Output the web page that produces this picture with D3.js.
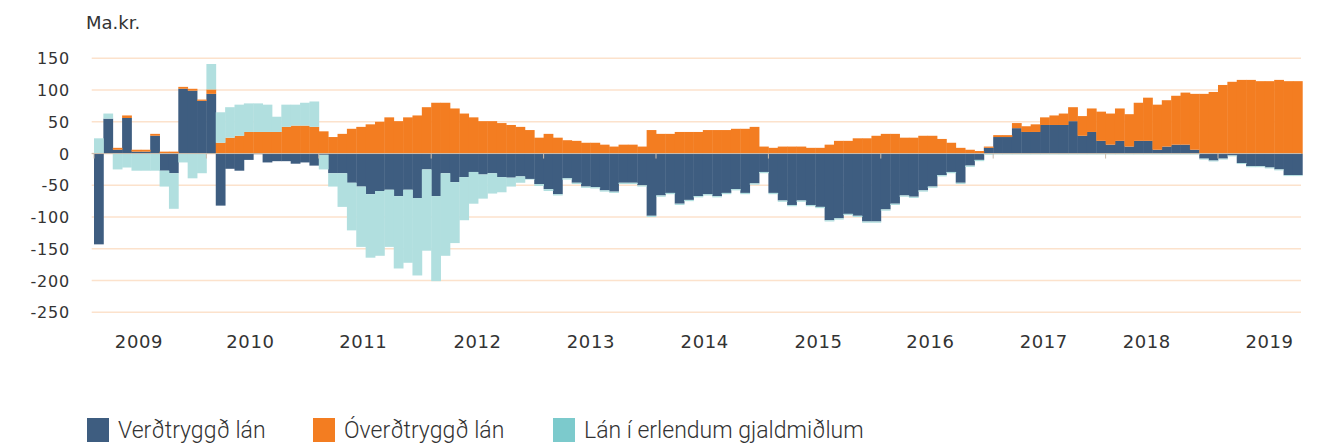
<!DOCTYPE html>
<html>
<head>
<meta charset="utf-8">
<script src="https://cdn.jsdelivr.net/npm/d3@7"></script>
<style>
  body { margin: 0; background: #fff; }
  svg text { fill: #333; }
</style>
</head>
<body>
<svg id="chart" width="1324" height="444"></svg>
<script>
// monthly values, Jan 2009 - Sep 2019 (ma.kr.)
const months = d3.timeMonth.range(new Date(2009, 0, 1), new Date(2019, 9, 1));

const verdtryggd = [
  -143, 55, 6, 56, 3, 3, 28, -27, -31, 102, 99, 83,
  94, -82, -24, -27, -10, -1, -14, -12, -12, -16, -14, -19,
  -2, -31, -31, -46, -52, -64, -59, -57, -67, -57, -70, -25,
  -67, -31, -45, -37, -29, -33, -31, -37, -38, -36, -40, -48,
  -56, -64, -39, -46, -52, -53, -58, -60, -46, -46, -50, -98,
  -66, -62, -79, -73, -67, -64, -67, -62, -56, -62, -47, -29,
  -62, -74, -81, -74, -81, -84, -105, -102, -95, -98, -107, -107,
  -88, -79, -66, -68, -58, -52, -34, -29, -46, -19, -10, 9,
  26, 26, 40, 34, 34, 45, 45, 45, 51, 28, 34, 20,
  14, 20, 11, 20, 20, 6, 11, 14, 14, 6, -8, -11,
  -8, -3, -15, -20, -20, -22, -25, -34, -34
];
const overdtryggd = [
  0, 0, 3, 4, 3, 3, 3, 3, 3, 3, 3, 2,
  7, 17, 25, 28, 34, 34, 34, 34, 42, 44, 44, 42,
  35, 26, 31, 39, 42, 46, 50, 57, 51, 57, 60, 73,
  80, 80, 71, 63, 57, 51, 51, 48, 45, 42, 37, 25,
  31, 25, 21, 20, 17, 17, 14, 11, 14, 14, 11, 37,
  31, 31, 34, 34, 34, 37, 37, 37, 39, 39, 42, 11,
  9, 11, 11, 11, 9, 9, 14, 20, 20, 24, 24, 28,
  31, 31, 25, 25, 28, 28, 23, 17, 9, 6, 4, 2,
  3, 3, 8, 9, 12, 12, 15, 18, 22, 31, 37, 46,
  49, 51, 51, 60, 68, 71, 73, 77, 82, 88, 94, 97,
  108, 113, 116, 116, 114, 114, 116, 114, 114
];
const erlend = [
  24, 8, -25, -22, -27, -27, -27, -25, -56, -14, -39, -31,
  40, 48, 48, 49, 45, 45, 43, 24, 35, 33, 36, 40,
  -23, -21, -53, -75, -95, -100, -102, -90, -114, -115, -122, -128,
  -134, -130, -96, -68, -50, -38, -32, -24, -14, -10, -1, -3,
  -3, -2, -2, -2, -2, -2, -2, -2, -2, -2, -2, -2,
  -2, -2, -2, -2, -2, -2, -2, -2, -2, -2, -2, -2,
  -2, -2, -2, -2, -2, -2, -2, -2, -2, -2, -2, -2,
  -2, -2, -2, -2, -2, -2, -2, -2, -2, -2, -2, -2,
  -1.5, -1.5, -1.5, -1.5, -1.5, -1.5, -1.5, -1.5, -1.5, -1.5, -1.5, -1.5,
  -1.5, -1.5, -1.5, -1.5, -1.5, -1.5, -1.5, -1.5, -1.5, -1.5, -1.5, -1.5,
  -1.5, -1.5, -1.5, -1.5, -1.5, -1.5, -1.5, -1.5, -1.5
];

const yTicks = [150, 100, 50, 0, -50, -100, -150, -200, -250];
const years = [2009, 2010, 2011, 2012, 2013, 2014, 2015, 2016, 2017, 2018, 2019];
// where each year label sits, counted in months from Jan 2009
const yearLabelMonth = [4.8, 16.7, 28.75, 40.95, 53.05, 65.2, 77.35, 89.3, 101.4, 112.4, 125.5];

const seriesNames = ["Verðtryggð lán", "Óverðtryggð lán", "Lán í erlendum gjaldmiðlum"];
const keys = ["verd", "overd", "erl"];
const barColors = { verd: "#3e5d80", overd: "#f37d21", erl: "#b1dfdf" };
const legendColors = ["#3e5d80", "#f37d21", "#7ccacc"];

const svg = d3.select("#chart");
const gridLeft = 91.7, gridRight = 1301;
const plotLeft = 94, plotRight = 1302.3, plotTop = 58.3, plotBottom = 312.3;

const rows = months.map((m, i) => ({ i: i, verd: verdtryggd[i], overd: overdtryggd[i], erl: erlend[i] }));

const x = d3.scaleBand()
  .domain(rows.map(d => d.i))
  .range([plotLeft, plotRight])
  .padding(0);

const xm = d3.scaleLinear().domain([0, months.length]).range([plotLeft, plotRight]);

const y = d3.scaleLinear()
  .domain([-250, 150])
  .range([plotBottom, plotTop]);

// gridlines
svg.append("g")
  .selectAll("line")
  .data(yTicks)
  .join("line")
    .attr("x1", gridLeft)
    .attr("x2", gridRight)
    .attr("y1", d => y(d))
    .attr("y2", d => y(d))
    .attr("stroke", "#fce2cc")
    .attr("stroke-width", 1.4);

// y labels
svg.append("g")
  .selectAll("text")
  .data(yTicks)
  .join("text")
    .attr("x", 70)
    .attr("y", d => y(d) + 6)
    .attr("text-anchor", "end")
    .style("font-family", "DejaVu Sans")
    .style("font-size", "16px")
    .style("letter-spacing", "0.8px")
    .text(d => d);

svg.append("text")
  .attr("x", 86)
  .attr("y", 29)
  .style("font-family", "DejaVu Sans")
  .style("font-size", "18px")
  .text("Ma.kr.");

// stacked bars
const stack = d3.stack()
  .keys(keys)
  .offset(d3.stackOffsetDiverging);
const series = stack(rows);

svg.append("g")
  .selectAll("g")
  .data(series)
  .join("g")
    .attr("fill", d => barColors[d.key])
  .selectAll("rect")
  .data(d => d)
  .join("rect")
    .attr("x", d => x(d.data.i))
    .attr("width", x.bandwidth() + 0.4)
    .attr("y", d => y(Math.max(d[0], d[1])))
    .attr("height", d => Math.abs(y(d[0]) - y(d[1])));

// zero line and year ticks
svg.append("line")
  .attr("x1", gridLeft)
  .attr("x2", gridRight)
  .attr("y1", y(0))
  .attr("y2", y(0))
  .attr("stroke", "#c9bcae")
  .attr("stroke-width", 1);

svg.append("g")
  .selectAll("line")
  .data(years)
  .join("line")
    .attr("x1", (d, k) => xm(k * 12))
    .attr("x2", (d, k) => xm(k * 12))
    .attr("y1", y(0))
    .attr("y2", y(0) + 5)
    .attr("stroke", "#c9bcae")
    .attr("stroke-width", 1);

svg.append("g")
  .selectAll("text")
  .data(years)
  .join("text")
    .attr("x", (d, k) => xm(yearLabelMonth[k]))
    .attr("y", 348)
    .attr("text-anchor", "middle")
    .style("font-family", "DejaVu Sans")
    .style("font-size", "18px")
    .style("letter-spacing", "0.6px")
    .text(d => d);

// legend
const legendX = [87, 313, 553];
const legend = svg.append("g")
  .selectAll("g")
  .data(seriesNames)
  .join("g")
    .attr("transform", (d, k) => "translate(" + legendX[k] + ",418)");
legend.append("rect")
  .attr("width", 22)
  .attr("height", 24)
  .attr("fill", (d, k) => legendColors[k]);
legend.append("text")
  .attr("x", 31)
  .attr("y", 20)
  .style("font-family", "Roboto")
  .style("font-size", "23px")
  .style("font-weight", 300)
  .text(d => d);
</script>
</body>
</html>
